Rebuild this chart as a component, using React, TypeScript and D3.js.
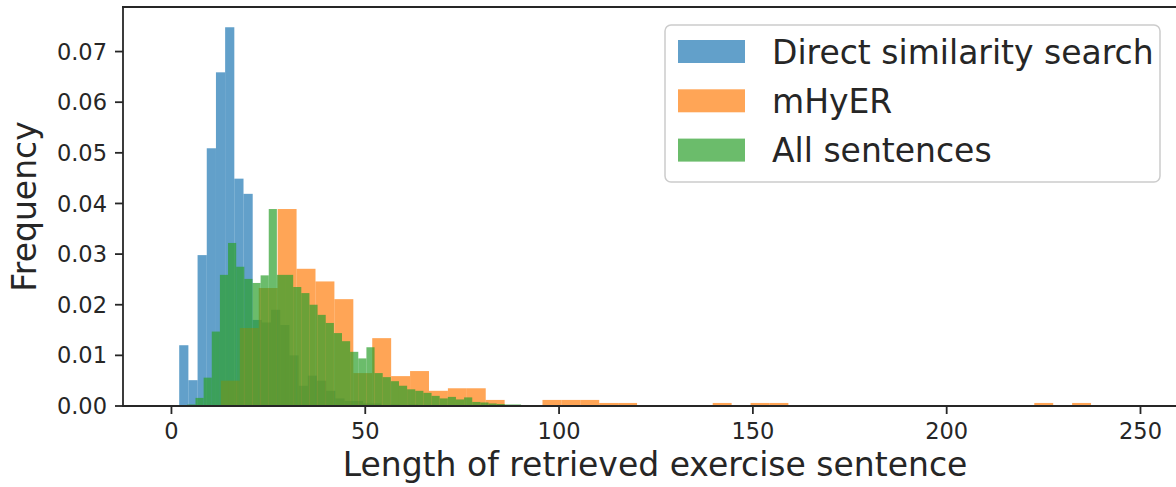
import * as d3 from "d3";

// histogram densities (bin start, bin width, heights)
const directStart = 2;
const directWidth = 2.37;
const directValues = [
  0.012, 0.0051, 0.0298, 0.0509, 0.0659, 0.0748, 0.0449, 0.0419, 0.017, 0.0165,
  0.019, 0.016, 0.01, 0.004, 0.006, 0.005, 0.003, 0.0015, 0.001, 0.001,
  0.0005, 0.0005, 0, 0.0003, 0, 0.0003,
];

const mhyerStart = 3;
const mhyerWidth = 4.88;
const mhyerValues = [
  0, 0, 0.005, 0.0154, 0.0233, 0.0389, 0.0271, 0.0246, 0.0211, 0.0065,
  0.0134, 0.0059, 0.0069, 0.003, 0.0035, 0.0035, 0.0012, 0, 0, 0.0012,
  0.0012, 0.0012, 0.0006, 0.0006, 0, 0, 0, 0, 0.0006, 0,
  0.0006, 0.0006, 0, 0, 0, 0, 0, 0, 0, 0,
  0, 0, 0, 0, 0, 0.0006, 0, 0.0006,
];

const allStart = 2;
const allWidth = 2.1;
const allValues = [
  0, 0.0003, 0.0016, 0.0056, 0.0147, 0.0259, 0.0322, 0.0275, 0.0251, 0.0243,
  0.0258, 0.0389, 0.0259, 0.0259, 0.0235, 0.0223, 0.02, 0.018, 0.0164, 0.0144,
  0.0128, 0.0107, 0.0094, 0.0116, 0.0065, 0.0057, 0.0049, 0.004, 0.0033, 0.003,
  0.0026, 0.002, 0.0015, 0.0018, 0.0013, 0.0017, 0.0008, 0.0007, 0.0005, 0.0004,
  0.0003, 0.0003, 0.0002, 0, 0, 0, 0, 0, 0, 0,
  0, 0, 0, 0.0002, 0.0002, 0.0002, 0, 0, 0, 0,
  0, 0, 0, 0, 0, 0, 0, 0, 0, 0,
  0, 0, 0, 0, 0, 0, 0, 0.0002, 0.0002,
];

const seriesNames = ["Direct similarity search", "mHyER", "All sentences"];
const seriesColors = ["#1f77b4", "#ff7f0e", "#2ca02c"];
const xTicks = [0, 50, 100, 150, 200, 250];
const yTicks = [0, 0.01, 0.02, 0.03, 0.04, 0.05, 0.06, 0.07];

const series = [
  { start: directStart, width: directWidth, values: directValues },
  { start: mhyerStart, width: mhyerWidth, values: mhyerValues },
  { start: allStart, width: allWidth, values: allValues },
];

const W = 1176;
const H = 487;
const FONT = "DejaVu Sans";
const INK = "#262626";

export default function App() {
  const left = 123, right = 1187, top = 7, bottom = 406;

  const x = d3.scaleLinear().domain([-12.5, 262]).range([left, right]);
  const y = d3.scaleLinear().domain([0, 0.0788]).range([bottom, top]);
  const fmt = d3.format(".2f");

  return (
    <svg
      width={W}
      height={H}
      style={{ position: "absolute", left: 0, top: 0, background: "#fff" }}
      fontFamily={FONT}
    >
      <defs>
        <clipPath id="plot">
          <rect x={left} y={top} width={right - left} height={bottom - top} />
        </clipPath>
      </defs>

      {/* bars: blue, then orange, then green on top */}
      <g clipPath="url(#plot)">
        {series.map((s, si) => (
          <g key={si} fill={seriesColors[si]} fillOpacity={0.7}>
            {s.values.map((v, i) => {
              if (v <= 0) return null;
              const x0 = x(s.start + i * s.width);
              const x1 = x(s.start + (i + 1) * s.width);
              return (
                <rect key={i} x={x0} y={y(v)} width={x1 - x0} height={bottom - y(v)} />
              );
            })}
          </g>
        ))}
      </g>

      {/* spines */}
      <g stroke={INK} strokeWidth={1.8} fill="none" strokeLinecap="square">
        <line x1={left} x2={left} y1={top} y2={bottom} />
        <line x1={left} x2={right} y1={bottom} y2={bottom} />
        <line x1={left} x2={right} y1={top} y2={top} />
      </g>

      {/* x axis */}
      <g>
        {xTicks.map((t) => (
          <g key={t} transform={`translate(${x(t)},${bottom})`}>
            <line y2={8} stroke={INK} strokeWidth={1.8} />
            <text y={33} textAnchor="middle" fontSize={22.5} fill={INK}>
              {t}
            </text>
          </g>
        ))}
        <text x={(left + right) / 2} y={476} textAnchor="middle" fontSize={33} fill={INK}>
          Length of retrieved exercise sentence
        </text>
      </g>

      {/* y axis */}
      <g>
        {yTicks.map((t) => (
          <g key={t} transform={`translate(${left},${y(t)})`}>
            <line x2={-8} stroke={INK} strokeWidth={1.8} />
            <text x={-16} dy="0.36em" textAnchor="end" fontSize={22.5} fill={INK}>
              {fmt(t)}
            </text>
          </g>
        ))}
        <text
          transform={`translate(36,${(top + bottom) / 2}) rotate(-90)`}
          textAnchor="middle"
          fontSize={33}
          fill={INK}
        >
          Frequency
        </text>
      </g>

      {/* legend */}
      <g>
        <rect
          x={665}
          y={25}
          width={495}
          height={157}
          rx={6}
          fill="#fff"
          fillOpacity={0.8}
          stroke="#cccccc"
          strokeWidth={1.5}
        />
        {seriesNames.map((name, i) => {
          const cy = 51.5 + i * 49.3;
          return (
            <g key={name}>
              <rect x={678} y={cy - 11.5} width={67} height={23} fill={seriesColors[i]} fillOpacity={0.7} />
              <text x={772} y={cy + 12} fontSize={33} fill={INK}>
                {name}
              </text>
            </g>
          );
        })}
      </g>
    </svg>
  );
}
